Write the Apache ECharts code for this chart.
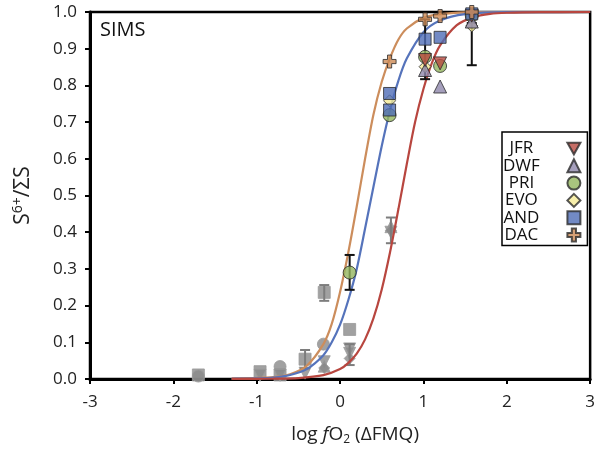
<!DOCTYPE html>
<html>
<head>
<meta charset="utf-8">
<title>SIMS S6+/ΣS vs log fO2</title>
<script src="https://cdn.jsdelivr.net/npm/echarts@6/dist/echarts.min.js"></script>
<style>
  html, body { margin: 0; padding: 0; background: #fff; }
  #chart { width: 598px; height: 453px; }
</style>
</head>
<body>
<div id="chart"></div>
<script>
// Axis ticks
const xTicks = [-3, -2, -1, 0, 1, 2, 3];
const yTicks = [0, 0.1, 0.2, 0.3, 0.4, 0.5, 0.6, 0.7, 0.8, 0.9, 1.0];

// Sample series: [log fO2 (ΔFMQ), S6+/ΣS]
const jfr = [[1.02, 0.869], [1.20, 0.860], [1.58, 0.990]];
const dwf = [[1.02, 0.842], [1.20, 0.797], [1.58, 0.974]];
const pri = [[0.115, 0.290], [0.594, 0.719], [1.02, 0.878], [1.20, 0.853], [1.58, 0.990]];
const evo = [[0.594, 0.758], [1.02, 0.851], [1.58, 0.962]];
const and = [[0.594, 0.778], [0.594, 0.733], [1.02, 0.926], [1.20, 0.931], [1.58, 0.995]];
const dac = [[0.594, 0.865], [1.02, 0.980], [1.20, 0.989], [1.58, 1.000]];

// Reference (grey) measurements
const greySquares = [[-1.70, 0.011], [-0.96, 0.020], [-0.72, 0.011], [-0.42, 0.054], [-0.19, 0.236], [0.115, 0.135]];
const greyCircles = [[-1.70, 0.008], [-0.72, 0.034], [-0.20, 0.095]];
const greyDown = [[-0.96, 0.010], [-0.72, 0.010], [-0.42, 0.016], [-0.19, 0.047], [0.115, 0.082], [0.115, 0.070], [0.61, 0.400]];
const greyUp = [[-0.19, 0.035], [0.61, 0.415]];
const greyDiamonds = [[-0.19, 0.030], [0.115, 0.056], [0.61, 0.405]];

// Error bars: [x, low, high]
const blackErrors = [[0.115, 0.243, 0.338], [1.02, 0.817, 0.980], [1.58, 0.855, 0.970]];
const greyErrors = [[-0.42, 0.029, 0.079], [-0.19, 0.213, 0.256], [0.115, 0.038, 0.095], [0.61, 0.370, 0.440]];

// Fitted curves, sampled along x
const curveDac = [[-1.3, 0.001], [-1.2, 0.0015], [-1.0, 0.003], [-0.8, 0.005], [-0.6, 0.013], [-0.4, 0.036], [-0.2, 0.095],
  [-0.1, 0.15], [0.0, 0.237], [0.1, 0.346], [0.2, 0.47], [0.3, 0.60], [0.4, 0.72], [0.5, 0.81], [0.6, 0.875],
  [0.7, 0.925], [0.8, 0.955], [1.0, 0.984], [1.2, 0.994], [1.5, 0.999], [2.0, 1.0], [3.0, 1.0]];
const curveAnd = [[-1.3, 0.0005], [-1.2, 0.001], [-1.0, 0.0017], [-0.8, 0.004], [-0.6, 0.011], [-0.4, 0.027], [-0.2, 0.065],
  [-0.1, 0.10], [0.0, 0.148], [0.1, 0.216], [0.2, 0.30], [0.3, 0.41], [0.4, 0.523], [0.5, 0.635], [0.6, 0.733],
  [0.7, 0.813], [0.8, 0.873], [1.0, 0.945], [1.2, 0.977], [1.5, 0.994], [2.0, 0.9994], [3.0, 1.0]];
const curveJfr = [[-1.3, 0.0001], [-1.0, 0.0005], [-0.8, 0.001], [-0.5, 0.0025], [-0.2, 0.0104], [0.0, 0.027], [0.1, 0.044],
  [0.2, 0.069], [0.3, 0.108], [0.4, 0.165], [0.5, 0.244], [0.6, 0.346], [0.7, 0.463], [0.8, 0.585], [0.9, 0.70],
  [1.0, 0.79], [1.1, 0.86], [1.2, 0.909], [1.4, 0.964], [1.6, 0.986], [1.8, 0.995], [2.0, 0.998], [2.4, 0.9997], [3.0, 1.0]];

const FONT = '"Open Sans", "Liberation Sans", sans-serif';
const BORDER = '#2b2b2b';

const downTri = 'path://M0,0L10,0L5,9Z';
const plusShape = 'path://M3.4,0H6.6V3.4H10V6.6H6.6V10H3.4V6.6H0V3.4H3.4Z';

function errorBars(data, color, z) {
  return {
    type: 'custom',
    z: z,
    silent: true,
    data: data,
    encode: { x: 0, y: [1, 2] },
    renderItem: function (params, api) {
      const x = api.value(0);
      const lo = api.coord([x, api.value(1)]);
      const hi = api.coord([x, api.value(2)]);
      const half = 5;
      const style = { stroke: color, lineWidth: 2 };
      return {
        type: 'group',
        children: [
          { type: 'line', shape: { x1: lo[0], y1: lo[1], x2: hi[0], y2: hi[1] }, style: style },
          { type: 'line', shape: { x1: lo[0] - half, y1: lo[1], x2: lo[0] + half, y2: lo[1] }, style: style },
          { type: 'line', shape: { x1: hi[0] - half, y1: hi[1], x2: hi[0] + half, y2: hi[1] }, style: style }
        ]
      };
    }
  };
}

function greySeries(data, symbol, size) {
  return {
    type: 'scatter', data: data, symbol: symbol, symbolSize: size, z: 2, clip: false,
    itemStyle: { color: '#898989', borderColor: '#9a9a9a', borderWidth: 1 }
  };
}

function curve(data, color) {
  return {
    type: 'line', data: data, showSymbol: false, smooth: 0.3, z: 4,
    lineStyle: { color: color, width: 2.2 }, silent: true
  };
}

function sample(name, data, symbol, size, color) {
  return {
    name: name, type: 'scatter', data: data, symbol: symbol, symbolSize: size, z: 6, clip: false,
    itemStyle: { color: color, borderColor: BORDER, borderWidth: 1 }
  };
}

const chart = echarts.init(document.getElementById('chart'), null, { renderer: 'canvas' });

chart.setOption({
  animation: false,
  backgroundColor: '#fff',
  textStyle: { fontFamily: FONT },
  grid: {
    left: 90, right: 6, top: 12, bottom: 74,
    show: true, borderColor: '#000', borderWidth: 2.5, backgroundColor: 'transparent'
  },
  xAxis: {
    type: 'value', min: -3, max: 3, interval: 1,
    axisLine: { show: true, onZero: false, lineStyle: { color: '#000', width: 3 } },
    axisTick: { show: true, inside: false, length: 5, lineStyle: { color: '#000', width: 2 } },
    splitLine: { show: false },
    axisLabel: {
      color: '#222', fontSize: 17, fontFamily: FONT, margin: 15,
      formatter: function (v) { return xTicks.indexOf(v) >= 0 ? String(v) : ''; }
    },
    name: '{t|log }{i|f}{t|O}{sub|2}{t| (ΔFMQ)}',
    nameLocation: 'middle', nameGap: 45,
    nameTextStyle: {
      padding: [0, 0, 0, 30],
      rich: {
        t: { fontSize: 19, fontFamily: FONT, color: '#222' },
        i: { fontSize: 19, fontFamily: FONT, color: '#222', fontStyle: 'italic' },
        sub: { fontSize: 12, fontFamily: FONT, color: '#222', padding: [10, 0, 0, 0] }
      }
    }
  },
  yAxis: {
    type: 'value', min: 0, max: 1, interval: 0.1,
    axisLine: { show: true, onZero: false, lineStyle: { color: '#000', width: 3 } },
    axisTick: { show: true, inside: false, length: 5, lineStyle: { color: '#000', width: 2 } },
    splitLine: { show: false },
    axisLabel: {
      color: '#222', fontSize: 17, fontFamily: FONT, margin: 13,
      formatter: function (v) {
        const t = yTicks.find(function (k) { return Math.abs(k - v) < 1e-9; });
        return t === undefined ? '' : t.toFixed(1);
      }
    },
    name: '{t|S}{sup|6+}{t|/ΣS}',
    nameLocation: 'middle', nameGap: 55, nameRotate: 90,
    nameTextStyle: {
      rich: {
        t: { fontSize: 21, fontFamily: FONT, color: '#222' },
        sup: { fontSize: 14, fontFamily: FONT, color: '#222', padding: [0, 0, 10, 0] }
      }
    }
  },
  legend: {
    data: ['JFR', 'DWF', 'PRI', 'EVO', 'AND', 'DAC'],
    orient: 'vertical', left: 502, top: 132, align: 'right',
    backgroundColor: '#fff', borderColor: '#000', borderWidth: 1.5,
    padding: [8, 6, 2, 1], itemGap: 0.3, itemWidth: 13, itemHeight: 13,
    selectedMode: false,
    formatter: function (name) { return '{a|' + name + '}'; },
    textStyle: {
      fontFamily: FONT,
      rich: { a: { fontSize: 17, fontFamily: FONT, color: '#111', width: 34, align: 'center', lineHeight: 16, padding: [0, 24, 0, 0] } }
    }
  },
  graphic: [{
    type: 'text', left: 100, top: 20, z: 10,
    style: { text: 'SIMS', fontSize: 20, fontFamily: FONT, fill: '#111' }
  }],
  series: [
    greySeries(greySquares, 'rect', 12),
    greySeries(greyCircles, 'circle', 12),
    greySeries(greyDown, downTri, 12),
    greySeries(greyUp, 'triangle', 12),
    greySeries(greyDiamonds, 'diamond', 11),
    errorBars(greyErrors, '#7d7d7d', 3),
    curve(curveDac, '#cc8d5c'),
    curve(curveAnd, '#5573bb'),
    curve(curveJfr, '#b8463f'),
    errorBars(blackErrors, '#111', 5),
    sample('PRI', pri, 'circle', 13, '#93b55e'),
    sample('EVO', evo, 'diamond', 12, '#f5eb96'),
    sample('DWF', dwf, 'triangle', 13, '#8e87ab'),
    sample('JFR', jfr, downTri, 13, '#b84a40'),
    sample('AND', and, 'rect', 12, '#4f6db6'),
    sample('DAC', dac, plusShape, 13, '#cc8a55')
  ]
});
</script>
</body>
</html>
